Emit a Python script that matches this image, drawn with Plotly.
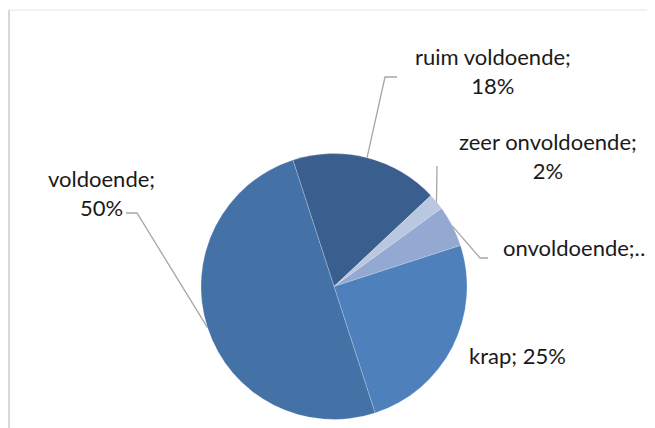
import math

from plotly import graph_objects

# data
categories = ["ruim voldoende", "zeer onvoldoende", "onvoldoende", "krap", "voldoende"]
shares = [18, 2, 5, 25, 50]
label_texts = ["ruim voldoende;<br>18%", "zeer onvoldoende;<br>2%", "onvoldoende;…",
               "krap; 25%", "voldoende;<br>50%"]
colors = ["#3A5F8F", "#BAC7E1", "#94A9D1", "#4E80BC", "#4472A7"]

# the page body has an 8px margin, so work in window pixels and shift
OFF = 8
W, H = 655 - OFF, 428 - OFF
CX, CY, R = 334, 286.5, 133
START = -18  # degrees, clockwise from 12 o'clock

# label placement (window px) and leader elbow points, None = no leader
label_pos = [(493, 71), (548, 156), (577, 247), (517, 355), (101, 193)]
elbows = [[(385, 77), (397, 77)], [(437, 166)], [(480, 258), (488, 258)], None,
          [(137, 213), (126, 213)]]


def px(x, y):
    return (x - OFF) / W, 1 - (y - OFF) / H


fig = graph_objects.Figure()
x0, y1 = px(CX - R, CY - R)
x1, y0 = px(CX + R, CY + R)
fig.add_trace(graph_objects.Pie(
    labels=categories, values=shares, sort=False, direction="clockwise", rotation=START,
    marker=dict(colors=colors, line=dict(color="rgba(255,255,255,0.35)", width=0.6)),
    textinfo="none", hoverinfo="label+percent", showlegend=False,
    domain=dict(x=[x0, x1], y=[y0, y1]),
))

fx, fy = px(9, 10)
shapes = [
    dict(type="line", xref="paper", yref="paper", x0=fx, y0=fy, x1=1, y1=fy,
         line=dict(color="#E6E6E6", width=1)),
    dict(type="line", xref="paper", yref="paper", x0=fx, y0=fy, x1=fx, y1=0,
         line=dict(color="#D9D9D9", width=2)),
]

total = sum(shares)
acc = 0
for i, v in enumerate(shares):
    mid = math.radians(START + 360 * (acc + v / 2) / total)
    acc += v
    if elbows[i] is None:
        continue
    pts = [(CX + R * math.sin(mid), CY - R * math.cos(mid))] + elbows[i]
    path = "M " + " L ".join(f"{px(x, y)[0]},{px(x, y)[1]}" for x, y in pts)
    shapes.append(dict(type="path", xref="paper", yref="paper", path=path,
                       line=dict(color="#A6A6A6", width=1.3)))

annotations = []
for text, (x, y) in zip(label_texts, label_pos):
    ax, ay = px(x, y)
    annotations.append(dict(text=text, x=ax, y=ay, xref="paper", yref="paper", showarrow=False,
                            xanchor="center", yanchor="middle", align="center",
                            font=dict(family="Lato", size=22, color="#1A1A1A")))

fig.update_layout(
    width=W, height=H, autosize=False,
    margin=dict(l=0, r=0, t=0, b=0),
    paper_bgcolor="white", plot_bgcolor="white",
    shapes=shapes, annotations=annotations,
)

fig.write_html("out.html")
